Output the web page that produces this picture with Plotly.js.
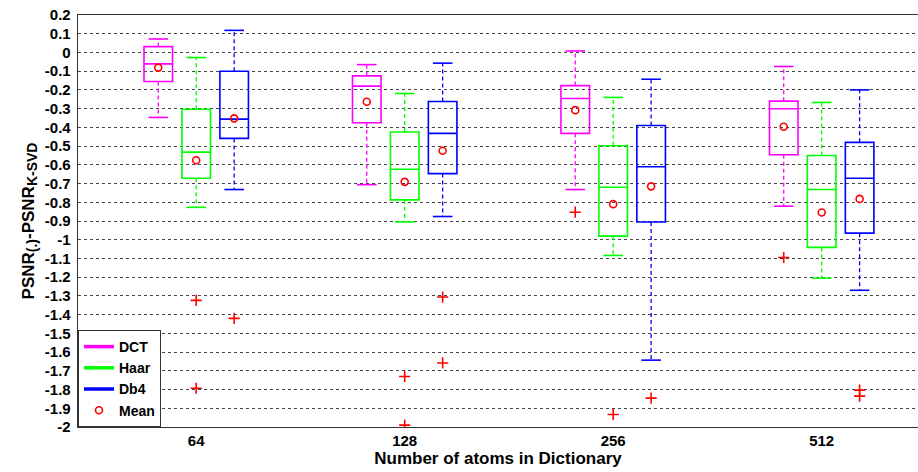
<!DOCTYPE html>
<html>
<head>
<meta charset="utf-8">
<script src="https://cdn.plot.ly/plotly-3.0.1.min.js"></script>
<style>html,body{margin:0;padding:0;background:#fff;}#chart{width:918px;height:472px;}</style>
</head>
<body>
<div id="chart"></div>
<script>
// ---- data ----
const categories = ['64', '128', '256', '512'];
const categoryPos = [1, 2, 3, 4];
const seriesNames = ['DCT', 'Haar', 'Db4'];

const dctUpper  = [0.072, -0.065, 0.008, -0.075];
const dctQ3     = [0.031, -0.125, -0.177, -0.260];
const dctMedian = [-0.061, -0.180, -0.246, -0.301];
const dctMean   = [-0.081, -0.263, -0.308, -0.397];
const dctQ1     = [-0.155, -0.375, -0.432, -0.546];
const dctLower  = [-0.347, -0.706, -0.732, -0.821];
const dctOutCat = ['256', '512'];
const dctOutVal = [-0.853, -1.095];

const haarUpper  = [-0.027, -0.219, -0.240, -0.267];
const haarQ3     = [-0.303, -0.425, -0.498, -0.550];
const haarMedian = [-0.532, -0.624, -0.720, -0.732];
const haarMean   = [-0.576, -0.691, -0.810, -0.855];
const haarQ1     = [-0.672, -0.787, -0.981, -1.041];
const haarLower  = [-0.827, -0.905, -1.084, -1.205];
const haarOutCat = ['64', '64', '128', '128', '256'];
const haarOutVal = [-1.324, -1.793, -1.730, -1.990, -1.933];

const db4Upper  = [0.118, -0.057, -0.143, -0.200];
const db4Q3     = [-0.100, -0.262, -0.390, -0.480];
const db4Median = [-0.356, -0.432, -0.610, -0.672];
const db4Mean   = [-0.352, -0.525, -0.715, -0.782];
const db4Q1     = [-0.459, -0.647, -0.905, -0.965];
const db4Lower  = [-0.732, -0.876, -1.643, -1.270];
const db4OutCat = ['64', '128', '128', '256', '512', '512'];
const db4OutVal = [-1.420, -1.306, -1.658, -1.846, -1.803, -1.835];

const yTickVals = [0.2, 0.1, 0, -0.1, -0.2, -0.3, -0.4, -0.5, -0.6, -0.7, -0.8, -0.9, -1, -1.1, -1.2, -1.3, -1.4, -1.5, -1.6, -1.7, -1.8, -1.9, -2];
const yTickText = ['0.2', '0.1', '0', '-0.1', '-0.2', '-0.3', '-0.4', '-0.5', '-0.6', '-0.7', '-0.8', '-0.9', '-1', '-1.1', '-1.2', '-1.3', '-1.4', '-1.5', '-1.6', '-1.7', '-1.8', '-1.9', '-2'];

// ---- styling ----
const colors = ['#ff00ff', '#00ff00', '#0000ff'];
const offsets = [-0.182, 0, 0.182];
const boxWidth = 0.137;
const FONT = 'Arial, "Liberation Sans", sans-serif';

const series = [
  {up: dctUpper, q3: dctQ3, med: dctMedian, mean: dctMean, q1: dctQ1, lo: dctLower, oc: dctOutCat, ov: dctOutVal},
  {up: haarUpper, q3: haarQ3, med: haarMedian, mean: haarMean, q1: haarQ1, lo: haarLower, oc: haarOutCat, ov: haarOutVal},
  {up: db4Upper, q3: db4Q3, med: db4Median, mean: db4Mean, q1: db4Q1, lo: db4Lower, oc: db4OutCat, ov: db4OutVal}
];

const traces = [];
const meanX = [], meanY = [], outX = [], outY = [];

series.forEach((s, k) => {
  const xs = categoryPos.map(p => p + offsets[k]);
  traces.push({
    type: 'box', x: xs, q1: s.q1, median: s.med, q3: s.q3,
    lowerfence: s.q1, upperfence: s.q3, width: boxWidth, whiskerwidth: 0,
    boxpoints: false, fillcolor: 'rgba(0,0,0,0)',
    line: {color: colors[k], width: 1.6}, showlegend: false, hoverinfo: 'skip'
  });
  const wx = [], wy = [];
  xs.forEach((x, i) => {
    wx.push(x, x, null, x, x, null);
    wy.push(s.q3[i], s.up[i], null, s.q1[i], s.lo[i], null);
  });
  traces.push({
    type: 'scatter', mode: 'lines', x: wx, y: wy,
    line: {color: colors[k], width: 1.3, dash: '4px,3px'},
    showlegend: false, hoverinfo: 'skip', connectgaps: false
  });
  traces.push({
    type: 'scatter', mode: 'markers', x: xs.concat(xs), y: s.up.concat(s.lo),
    marker: {symbol: 'line-ew-open', size: 14, color: colors[k], line: {color: colors[k], width: 1.6}},
    showlegend: false, hoverinfo: 'skip'
  });
  xs.forEach((x, i) => { meanX.push(x); meanY.push(s.mean[i]); });
  s.oc.forEach((c, j) => {
    outX.push(categoryPos[categories.indexOf(c)] + offsets[k]);
    outY.push(s.ov[j]);
  });
});

traces.push({
  type: 'scatter', mode: 'markers', x: outX, y: outY,
  marker: {symbol: 'cross-thin-open', size: 8, color: '#ff0000', line: {color: '#ff0000', width: 1.6}},
  showlegend: false, hoverinfo: 'skip'
});
seriesNames.forEach((n, k) => {
  traces.push({
    type: 'scatter', mode: 'lines', x: [null], y: [null], name: n,
    line: {color: colors[k], width: 3.5}
  });
});
traces.push({
  type: 'scatter', mode: 'markers', x: meanX, y: meanY, name: 'Mean',
  marker: {symbol: 'circle-open', size: 7, line: {color: '#ff0000', width: 1.6}, color: '#ff0000'}
});

const layout = {
  width: 918, height: 472,
  margin: {l: 78, r: 0, t: 15, b: 45},
  paper_bgcolor: '#ffffff', plot_bgcolor: '#ffffff',
  font: {family: FONT, color: '#000'},
  showlegend: true,
  legend: {
    x: 0, y: 0, xanchor: 'left', yanchor: 'bottom',
    bgcolor: '#ffffff', bordercolor: '#333', borderwidth: 1,
    font: {family: FONT, size: 14, weight: 'bold', color: '#000'},
    itemwidth: 30, tracegroupgap: 0, traceorder: 'normal'
  },
  xaxis: {
    range: [0.433, 4.462], tickvals: categoryPos, ticktext: categories,
    showgrid: false, zeroline: false, showline: true, mirror: true,
    linecolor: '#333', linewidth: 1.3, ticks: '', automargin: false,
    tickfont: {family: FONT, size: 15, weight: 'bold'},
    title: {text: 'Number of atoms in Dictionary', standoff: 2,
            font: {family: FONT, size: 17, weight: 'bold'}}
  },
  yaxis: {
    range: [-2, 0.2], tickvals: yTickVals, ticktext: yTickText,
    showgrid: true, gridcolor: '#444', griddash: 'dot', gridwidth: 1,
    zeroline: false, showline: true, linecolor: '#333', linewidth: 1.3,
    ticks: '', automargin: false, ticklabelstandoff: 3,
    tickfont: {family: FONT, size: 15, weight: 'bold'},
    title: {text: "PSNR<sub><span style='font-size:14px'>(.)</span></sub>-PSNR<sub><span style='font-size:14px'>K-SVD</span></sub>",
            standoff: 6, font: {family: FONT, size: 17, weight: 'bold'}}
  }
};

Plotly.newPlot('chart', traces, layout, {displayModeBar: false, staticPlot: true});
</script>
</body>
</html>
